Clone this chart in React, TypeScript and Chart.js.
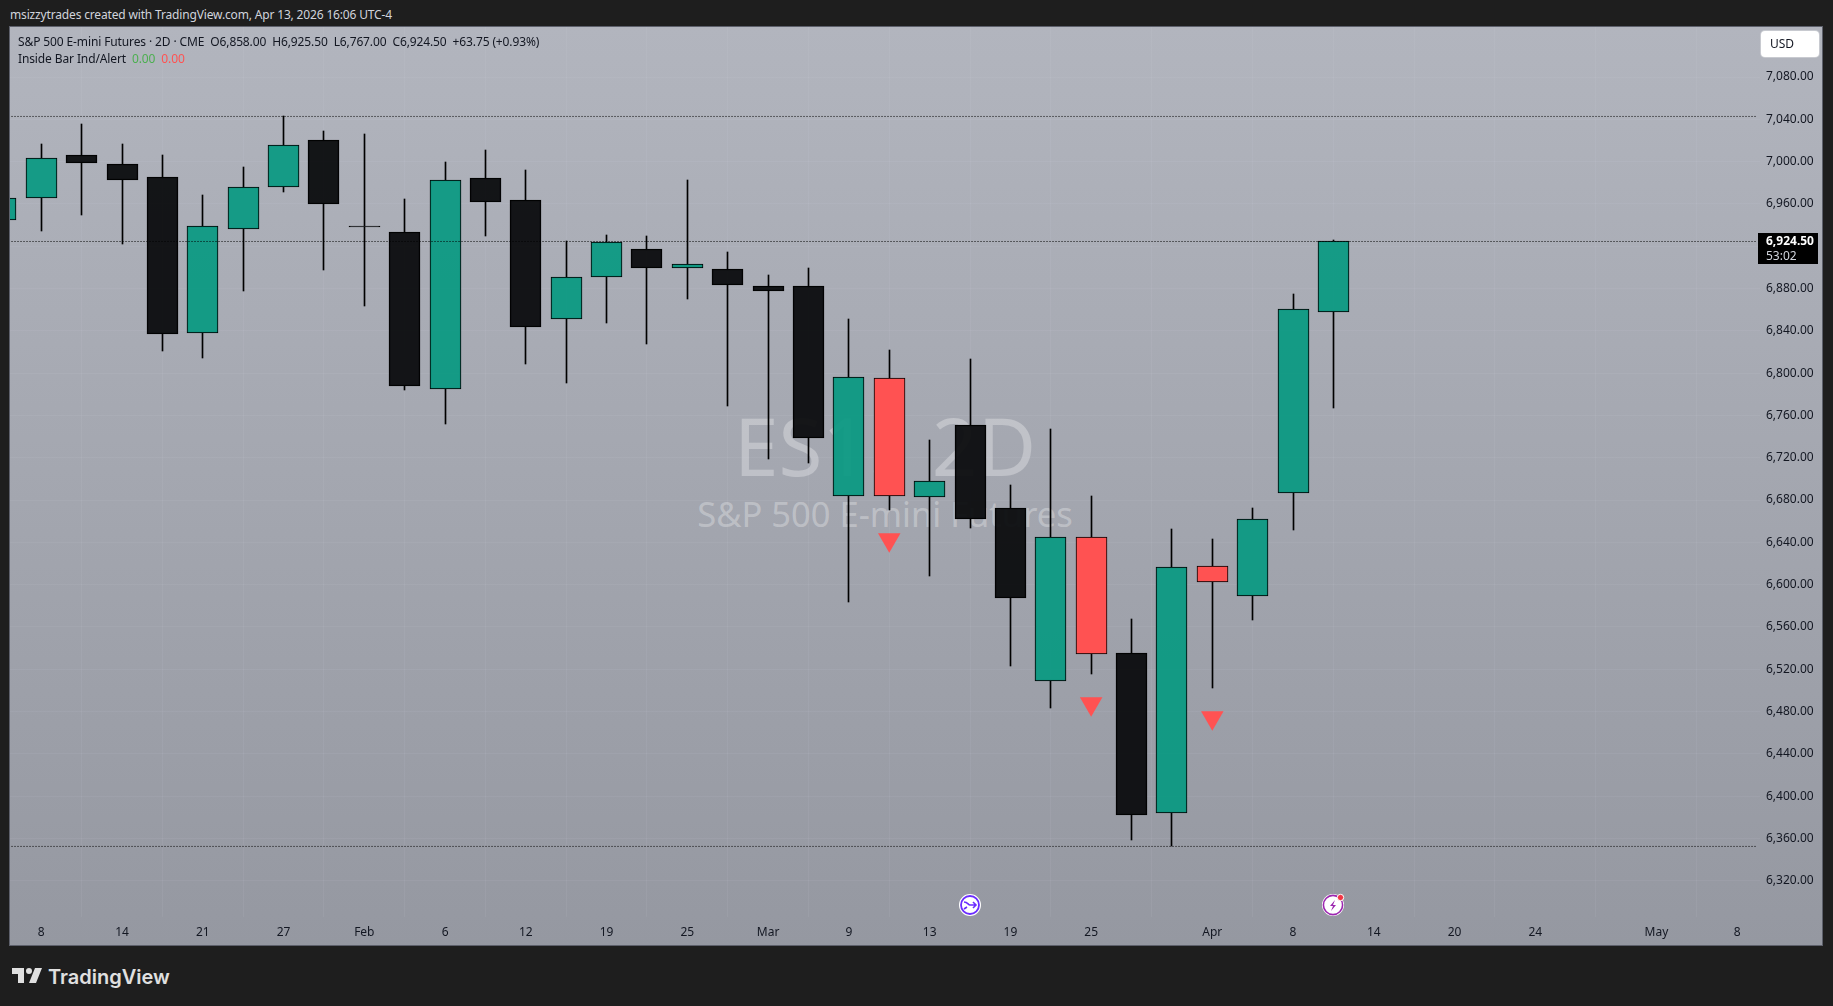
import React, { useEffect, useRef } from "react";
import Chart from "chart.js/auto";

const opens = [6944.75, 6966, 7006.25, 6997.75, 6985.5, 6838, 6936.75, 6976, 7020.5, 6938.75, 6933.5, 6785, 6984.5, 6963.5, 6850.75, 6890.75, 6917.25, 6899, 6898.5, 6882.25, 6882.25, 6684.25, 6795.25, 6682.75, 6751, 6672.5, 6509, 6645, 6535.25, 6384, 6617.5, 6589.25, 6687, 6858];
const closes = [6966, 7003.5, 6998.25, 6982.25, 6837, 6939, 6976, 7015.5, 6960, 6937.75, 6787.5, 6982.5, 6961.5, 6844, 6890.75, 6924, 6899, 6903, 6883, 6877.5, 6738.25, 6796.25, 6683.75, 6698, 6662.5, 6587, 6645, 6534, 6382.25, 6616.5, 6602.5, 6662, 6860.25, 6924.5];
const highs = [6975, 7016.5, 7035.5, 7016.5, 7006.5, 6968.75, 6995, 7042.75, 7029.25, 7026, 6965, 6999.5, 7011.25, 6992.25, 6925.25, 6930.75, 6930, 6982.75, 6914.75, 6893, 6899.5, 6851.5, 6822, 6737, 6813.5, 6694.25, 6747, 6684, 6567.75, 6653, 6643.5, 6672.75, 6874.75, 6925.5];
const lows = [6935, 6934.5, 6949.75, 6922.5, 6821.25, 6814, 6878, 6971.5, 6897.75, 6863.75, 6784.5, 6752, 6930, 6808.25, 6790.25, 6847, 6827.75, 6870.5, 6768.5, 6718.5, 6715.5, 6583.75, 6670.75, 6607.75, 6654, 6523.5, 6483, 6515.75, 6358.75, 6352.5, 6502.5, 6566.25, 6652, 6767];
const kinds = ["up", "up", "down", "down", "down", "up", "up", "up", "down", "down", "down", "up", "down", "down", "up", "up", "down", "up", "down", "down", "down", "up", "inside", "up", "down", "down", "up", "inside", "down", "up", "inside", "up", "up", "up"];

const markerBars = [22, 27, 30];
const markerPrices = [6642.5, 6487.5, 6474.25];

const dottedLevels = [7042.75, 6924.5, 6352.5];
const priceTicks = [7080, 7040, 7000, 6960, 6920, 6880, 6840, 6800, 6760, 6720, 6680, 6640, 6600, 6560, 6520, 6480, 6440, 6400, 6360, 6320];
const timeTickBars = [1, 3, 5, 7, 9, 11, 13, 15, 17, 19, 21, 23, 25, 27, 30, 32, 34, 36, 38, 41, 43];
const timeTickTexts = ["8", "14", "21", "27", "Feb", "6", "12", "19", "25", "Mar", "9", "13", "19", "25", "Apr", "8", "14", "20", "24", "May", "8"];

const FONT = '"Noto Sans", "Open Sans", sans-serif';
const fills: Record<string, string> = { up: "rgba(8,153,129,0.92)", down: "rgba(8,9,11,0.93)", inside: "#ff5252" };

const abs = (s: React.CSSProperties): React.CSSProperties => ({ position: "absolute", whiteSpace: "nowrap", ...s });

const noPad = (s: any) => { s.paddingTop = 0; s.paddingBottom = 0; s.paddingLeft = 0; s.paddingRight = 0; };

// Snap bars computed by the scales to whole device pixels, so that the candles stay crisp.
const snapBars = {
  id: "snapBars",
  beforeDatasetsDraw(chart: any) {
    chart.data.datasets.forEach((d: any, idx: number) => {
      if (d.type === "line") return;
      chart.getDatasetMeta(idx).data.forEach((el: any) => {
        el.x = Math.floor(el.x) + 0.5;
        const top = Math.round(Math.min(el.y, el.base));
        const bot = Math.round(Math.max(el.y, el.base));
        el.y = top;
        el.base = Math.max(bot, top + 1);
        el.height = el.base - el.y;
      });
    });
  },
};

export default function App() {
  const ref = useRef<HTMLCanvasElement | null>(null);
  useEffect(() => {
    if (!ref.current) return;
    const bars = opens.map((_, i) => i);
    const chart = new Chart(ref.current, {
      type: "bar",
      plugins: [snapBars],
      data: {
        datasets: [
          ...dottedLevels.map((lvl) => ({
            type: "line" as const,
            data: [{ x: -1, y: lvl }, { x: 43.49, y: lvl }],
            borderColor: "#000000",
            borderWidth: 1,
            borderDash: [1, 2],
            pointRadius: 0,
            order: 0,
          })),
          {
            type: "line" as const,
            data: markerBars.map((b, i) => ({ x: b, y: markerPrices[i] })),
            showLine: false,
            pointStyle: "triangle",
            rotation: 180,
            pointRadius: 13,
            pointBorderWidth: 0,
            pointBackgroundColor: "#ff5252",
            order: 1,
          },
          {
            data: bars.map((i) => ({ x: i, y: [Math.min(opens[i], closes[i]), Math.max(opens[i], closes[i])] })),
            backgroundColor: kinds.map((k) => fills[k]),
            borderColor: "#000000",
            borderWidth: 1,
            borderSkipped: false,
            barThickness: 31,
            grouped: false,
            order: 2,
          },
          {
            data: bars.map((i) => ({ x: i, y: [Math.max(opens[i], closes[i]), highs[i]] })),
            backgroundColor: "#000000",
            borderWidth: 0,
            barThickness: 1,
            grouped: false,
            order: 3,
          },
          {
            data: bars.map((i) => ({ x: i, y: [lows[i], Math.min(opens[i], closes[i])] })),
            backgroundColor: "#000000",
            borderWidth: 0,
            barThickness: 1,
            grouped: false,
            order: 3,
          },
        ] as any,
      },
      options: {
        animation: false,
        responsive: false,
        layout: { padding: 0, autoPadding: false },
        plugins: { legend: { display: false }, tooltip: { enabled: false }, title: { display: false } },
        scales: {
          x: {
            type: "linear",
            offset: false,
            min: 0.2254,
            max: 43.564,
            afterBuildTicks: (s: any) => { s.ticks = timeTickBars.map((value) => ({ value })); },
            afterFit: (s: any) => { s.height = 28; noPad(s); },
            ticks: {
              autoSkip: false,
              maxRotation: 0,
              padding: 8,
              color: "#131722",
              font: { family: FONT, size: 12 },
              callback: (v: any) => { const k = timeTickBars.indexOf(Number(v)); return k >= 0 ? timeTickTexts[k] : ""; },
            },
            grid: { color: "rgba(240,243,250,0.06)", drawTicks: false },
            border: { display: false },
          },
          y: {
            type: "linear",
            position: "right",
            min: 6285.76,
            max: 7127.32,
            afterBuildTicks: (s: any) => { s.ticks = priceTicks.map((value) => ({ value })); },
            afterFit: (s: any) => { s.width = 62; noPad(s); },
            ticks: {
              autoSkip: false,
              padding: 6,
              color: "#131722",
              font: { family: FONT, size: 12 },
              callback: (v: any) => Number(v).toLocaleString("en-US", { minimumFractionDigits: 2, maximumFractionDigits: 2 }),
            },
            grid: { color: "rgba(240,243,250,0.06)", drawTicks: false },
            border: { display: false },
          },
        },
      } as any,
    });
    return () => chart.destroy();
  }, []);

  return (
    <div style={{ position: "fixed", left: 0, top: 0, width: 1833, height: 1006, background: "#1e1e1e", overflow: "hidden", fontFamily: FONT }}>
      <div style={abs({ left: 10, top: 6, fontSize: 12, lineHeight: "18px", letterSpacing: -0.16, color: "#d1d4dc" })}>msizzytrades created with TradingView.com, Apr 13, 2026 16:06 UTC-4</div>
      <div style={abs({ left: 10, top: 27, width: 1812, height: 918, background: "linear-gradient(180deg,#b2b5be 0%,#9598a1 100%)", boxShadow: "0 0 0 1px #5d606b", overflow: "hidden" })}>
        <div style={abs({ left: 0, width: 1750, top: 368, textAlign: "center", fontSize: 80, lineHeight: "100px", color: "rgba(255,255,255,0.3)" })}>ES1!, 2D</div>
        <div style={abs({ left: 0, width: 1750, top: 465, textAlign: "center", fontSize: 34.5, lineHeight: "44px", color: "rgba(255,255,255,0.3)" })}>S&amp;P 500 E-mini Futures</div>
      </div>
      <canvas ref={ref} width={1812} height={918} style={{ position: "absolute", left: 10, top: 27, width: 1812, height: 918 }} />
      <div style={abs({ left: 18, top: 33, fontSize: 12, lineHeight: "18px", letterSpacing: -0.12, color: "#131722" })}>
        S&amp;P 500 E-mini Futures · 2D · CME&nbsp;&nbsp;O6,858.00&nbsp;&nbsp;H6,925.50&nbsp;&nbsp;L6,767.00&nbsp;&nbsp;C6,924.50&nbsp;&nbsp;+63.75 (+0.93%)
      </div>
      <div style={abs({ left: 18, top: 50, fontSize: 12, lineHeight: "18px", letterSpacing: -0.12, color: "#131722" })}>
        Inside Bar Ind/Alert&nbsp;&nbsp;<span style={{ color: "#4caf50" }}>0.00</span>&nbsp;&nbsp;<span style={{ color: "#ff5252" }}>0.00</span>
      </div>
      <div style={abs({ left: 1761, top: 31, width: 58, height: 26, background: "#ffffff", borderRadius: 4, boxShadow: "0 0 0 1px #c8cad0", fontSize: 12, lineHeight: "26px", color: "#131722", paddingLeft: 9, boxSizing: "border-box" })}>USD</div>
      <div style={abs({ left: 1758, top: 233, width: 60, height: 31, background: "#000000", paddingLeft: 8, boxSizing: "border-box", fontSize: 12, lineHeight: "15px", color: "#ffffff" })}>
        <div style={{ fontWeight: 700 }}>6,924.50</div>
        <div style={{ color: "#d1d4dc" }}>53:02</div>
      </div>
      <svg style={{ position: "absolute", left: 958, top: 893 }} width="24" height="24" viewBox="0 0 24 24">
        <circle cx="12" cy="12" r="10" fill="#ffffff" stroke="#ffffff" strokeWidth="2" />
        <circle cx="12" cy="12" r="9" fill="none" stroke="#6b2cff" strokeWidth="1.8" />
        <path d="M6 9c4 0 4 3 6 3h6M15 9l3 3-3 3M6 16l3-2" fill="none" stroke="#6b2cff" strokeWidth="1.6" />
      </svg>
      <svg style={{ position: "absolute", left: 1321, top: 892 }} width="26" height="26" viewBox="0 0 26 26">
        <circle cx="12" cy="13" r="11" fill="#ffffff" />
        <circle cx="12" cy="13" r="9.6" fill="none" stroke="#9c27b0" strokeWidth="1.6" />
        <path d="M14 8l-5 6h3l-2 5 5-6h-3z" fill="#9c27b0" />
        <circle cx="19.5" cy="5.5" r="3.2" fill="#f23645" stroke="#ffffff" strokeWidth="1" />
      </svg>
      <svg style={{ position: "absolute", left: 10, top: 962 }} width="36" height="28" viewBox="0 0 36 28">
        <path fill="#e0e0e0" d="M14 6H2v6h6v9h6V6zm12 15h-7l6-15h7l-6 15zm-7-9a3 3 0 1 0 0-6 3 3 0 0 0 0 6z" />
      </svg>
      <div style={abs({ left: 48, top: 962, fontFamily: 'Inter, "Noto Sans", sans-serif', fontWeight: 600, fontSize: 20, lineHeight: "30px", color: "#e0e0e0" })}>TradingView</div>
    </div>
  );
}
